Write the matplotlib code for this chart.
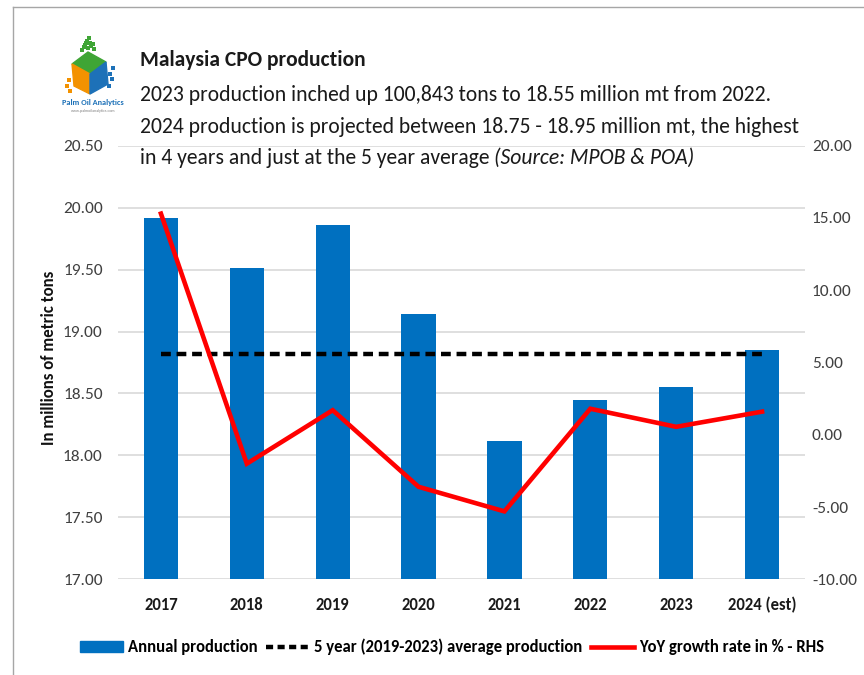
import matplotlib
matplotlib.use("Agg")
import matplotlib.pyplot as plt
from matplotlib.patches import Polygon, Rectangle
from matplotlib.lines import Line2D
import numpy as np

FONTS = ['Carlito', 'Lato', 'DejaVu Sans']
plt.rcParams['font.family'] = FONTS

# Data
years = ["2017", "2018", "2019", "2020", "2021", "2022", "2023", "2024 (est)"]
production = [19.92, 19.51, 19.86, 19.14, 18.12, 18.45, 18.55, 18.85]
avg_5yr = 18.82
yoy_growth = [15.3, -2.0, 1.7, -3.6, -5.3, 1.8, 0.55, 1.6]

left_ticks = [17.00, 17.50, 18.00, 18.50, 19.00, 19.50, 20.00, 20.50]
right_ticks = [-10, -5, 0, 5, 10, 15, 20]

BLUE = "#0070C0"
RED = "#FF0000"
GRID = "#D9D9D9"
TXT = "#404040"
DARK = "#1A1A1A"

W, H = 864, 675
fig = plt.figure(figsize=(W / 100, H / 100), dpi=100)
renderer = fig.canvas.get_renderer()


def fit_width(text_obj, target_px):
    """Scale a text's font size so its rendered width equals target_px."""
    w = text_obj.get_window_extent(renderer).width
    text_obj.set_fontsize(text_obj.get_fontsize() * target_px / w)
    return text_obj


def fy(px):
    return 1 - px / H


# Frame around the graphic
fig.add_artist(Line2D([13 / W, 13 / W], [0, fy(7)], transform=fig.transFigure,
                      color="#A6A6A6", lw=1))
fig.add_artist(Line2D([13 / W, 1], [fy(7), fy(7)], transform=fig.transFigure,
                      color="#A6A6A6", lw=1))

ax = fig.add_axes([118 / W, fy(579.3), 687 / W, (579.3 - 145.7) / H])
x = np.arange(len(years))

ax.bar(x, production, width=0.4, color=BLUE, zorder=2)
ax.plot([x[0], x[-1]], [avg_5yr, avg_5yr], color="black", lw=3.2,
        dashes=(2.2, 1.3), zorder=3)
ax.set_ylim(17.0, 20.5)
ax.set_xlim(-0.5, len(years) - 0.5)
ax.set_yticks(left_ticks)
ax.set_yticklabels([f"{v:.2f}" for v in left_ticks], fontsize=12.5, color=TXT)
ax.yaxis.grid(True, color=GRID, lw=1.2, zorder=0)
ax.set_axisbelow(True)
ax.set_xticks(x)
ax.set_xticklabels(years, fontsize=12, fontweight="bold", color=DARK)
ax.tick_params(axis="both", length=0)
ax.tick_params(axis="y", pad=11)
ax.tick_params(axis="x", pad=13)
for s in ax.spines.values():
    s.set_visible(False)

ax2 = ax.twinx()
ax2.plot(x, yoy_growth, color=RED, lw=3.3, zorder=4, solid_joinstyle="miter")
ax2.set_ylim(-10, 20)
ax2.set_yticks(right_ticks)
ax2.set_yticklabels([f"{v:.2f}" for v in right_ticks], fontsize=12.5, color=TXT)
ax2.tick_params(axis="y", length=0, pad=5)
for s in ax2.spines.values():
    s.set_visible(False)

# Axis title
fig.text(49 / W, fy(358), "In millions of metric tons", rotation=90,
         fontsize=12.2, fontweight="bold", color="#111111", ha="center", va="center")

# Legend
handles = [Rectangle((0, 0), 1, 1, color=BLUE),
           Line2D([], [], color="black", lw=3.2, dashes=(1.6, 1.0)),
           Line2D([], [], color=RED, lw=3.3)]
labels = ["Annual production", "5 year (2019-2023) average production",
          "YoY growth rate in % - RHS"]
fig.legend(handles, labels, loc="center", bbox_to_anchor=(452 / W, fy(647)),
           ncol=3, frameon=False, handlelength=2.6, handleheight=0.6,
           handletextpad=0.3, columnspacing=0.5,
           prop={"weight": "bold", "size": 12.0})

# Title block
title = fig.text(140 / W, fy(60), "Malaysia CPO production", fontsize=15,
                 fontweight="bold", color=DARK, va="center", ha="left")
fit_width(title, 226)
line1 = fig.text(140 / W, fy(95),
                 "2023 production inched up 100,843 tons to 18.55 million mt from 2022.",
                 fontsize=15, color=DARK, va="center", ha="left")
fit_width(line1, 632)
size = line1.get_fontsize()
fig.text(140 / W, fy(127),
         "2024 production is projected between 18.75 - 18.95 million mt, the highest",
         fontsize=size, color=DARK, va="center", ha="left")
t = fig.text(140 / W, fy(158), "in 4 years and just at the 5 year average ",
             fontsize=size, color=DARK, va="center", ha="left")
bb = t.get_window_extent(renderer)
fig.text(bb.x1 / W, fy(158), "(Source: MPOB & POA)",
         fontsize=size, style="italic", color=DARK, va="center", ha="left")

# Logo mark
lax = fig.add_axes([64 / W, fy(96), 52 / W, 60 / H])
lax.set_xlim(0, 52)
lax.set_ylim(0, 60)
lax.axis("off")
lax.add_patch(Polygon([[8, 32], [24, 44], [42, 34], [26, 22]], color="#3FA535"))
lax.add_patch(Polygon([[8, 32], [26, 22], [26, 2], [10, 10]], color="#F39200"))
lax.add_patch(Polygon([[26, 22], [42, 34], [44, 12], [26, 2]], color="#1D71B8"))
dots_x = [24, 21, 27, 18, 30, 23, 26, 20, 29, 46, 48, 45, 5, 3, 6, 49, 25, 22]
dots_y = [48, 51, 50, 46, 47, 55, 53, 49, 52, 22, 17, 10, 16, 10, 5, 28, 58, 53]
dots_c = ["#3FA535"] * 9 + ["#1D71B8"] * 3 + ["#F39200"] * 3 + ["#1D71B8"] + ["#3FA535"] * 2
lax.scatter(dots_x, dots_y, s=5, c=dots_c, marker="s", linewidths=0)
brand = fig.text(93 / W, fy(102), "Palm Oil Analytics", fontsize=8, fontweight="bold",
                 color="#1D71B8", ha="center", va="center")
fit_width(brand, 62)
site = fig.text(93 / W, fy(111), "www.palmoilanalytics.com", fontsize=3,
                color="#808080", ha="center", va="center")
fit_width(site, 44)

fig.savefig("out.png", dpi=100)
